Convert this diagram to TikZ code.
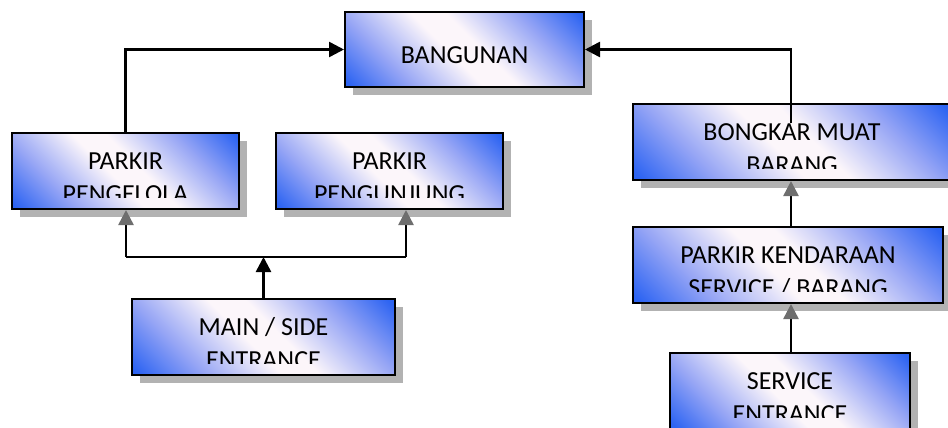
\documentclass[tikz,border=0pt]{standalone}
\usepackage{fontspec}
\setmainfont{Carlito}
\usetikzlibrary{arrows.meta,shadows,calc}
\definecolor{bblue}{RGB}{45,100,242}
\definecolor{lblue}{RGB}{150,165,245}
\definecolor{pwhite}{RGB}{252,246,250}
\definecolor{tipgrey}{RGB}{110,110,110}
\pgfdeclareverticalshading{boxshade}{100bp}{color(0bp)=(bblue); color(16bp)=(bblue); color(30bp)=(lblue); color(46bp)=(pwhite); color(54bp)=(pwhite); color(70bp)=(lblue); color(84bp)=(bblue); color(100bp)=(bblue)}
\newcommand\boxlabel[3]{%
  \begin{scope}
    \clip (#1.north west) rectangle ($(#1.north east)+(0,65)$);
    \node[lbl] (#1-a) at ($(#1.north)+(0,37)$) {#2};
    \node[lbl] (#1-b) at ($(#1.north)+(0,70)$) {#3};
  \end{scope}}
\begin{document}
\begin{tikzpicture}[x=1pt,y=-1pt,
  box/.style={rectangle, draw=black, line width=2pt, inner sep=0pt,
    shade, shading=boxshade, shading angle=-45,
    drop shadow={shadow xshift=8pt, shadow yshift=-8pt, fill=black!60, opacity=0.5}},
  lbl/.style={anchor=base, inner sep=0pt, font=\fontsize{26}{31}\selectfont},
  conn/.style={line width=2.5pt, draw=black},
  arr/.style={conn, -{Triangle[length=15pt,width=15pt]}},
  garr/.style={conn, -{Triangle[length=15pt,width=15pt,color=tipgrey]}}]
\clip (0,0) rectangle (948,428);
% boxes
\node[box, minimum width=239pt, minimum height=75pt] (bangunan) at (464.5,49.5) {};
\node[box, minimum width=227pt, minimum height=76pt] (pengelola) at (125.5,171) {};
\node[box, minimum width=227pt, minimum height=76pt] (pengunjung) at (389.5,171) {};
\node[box, minimum width=318pt, minimum height=76pt] (bongkar) at (792,142) {};
\node[box, minimum width=310pt, minimum height=76pt] (kendaraan) at (788,265) {};
\node[box, minimum width=263pt, minimum height=76pt] (mainside) at (263.5,337) {};
\node[box, minimum width=240pt, minimum height=76pt] (service) at (790,391) {};
% labels
\node[lbl] (bangunan-a) at ($(bangunan.north)+(0,53)$) {BANGUNAN};
\boxlabel{pengelola}{PARKIR}{PENGELOLA}
\boxlabel{pengunjung}{PARKIR}{PENGUNJUNG}
\boxlabel{bongkar}{BONGKAR MUAT}{BARANG}
\boxlabel{kendaraan}{PARKIR KENDARAAN}{SERVICE / BARANG}
\boxlabel{mainside}{MAIN / SIDE}{ENTRANCE}
\boxlabel{service}{SERVICE}{ENTRANCE}
% connectors
\coordinate (bk) at (791,123);
\coordinate (jl) at (126,257);
\coordinate (jr) at (406,257);
\draw[arr] (pengelola.north) |- (bangunan.west);
\draw[arr] (bk) |- (bangunan.east);
\draw[conn] (jl) -- (jr);
\draw[garr] (jl) -- (jl |- pengelola.south);
\draw[garr] (jr) -- (jr |- pengunjung.south);
\draw[arr] (mainside.north) -- (mainside.north |- jl);
\draw[garr] (bk |- kendaraan.north) -- (bk |- bongkar.south);
\draw[garr] (bk |- service.north) -- (bk |- kendaraan.south);
\end{tikzpicture}
\end{document}
